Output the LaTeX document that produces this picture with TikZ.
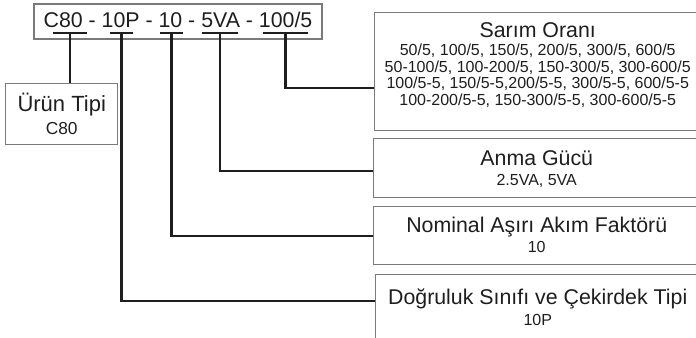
\documentclass[tikz,border=0pt]{standalone}
\usepackage{fontspec}
\setmainfont{Liberation Sans}
\usetikzlibrary{positioning}
\definecolor{linegray}{HTML}{7A7A7A}
\definecolor{ink}{HTML}{1E1E1E}

\begin{document}
\begin{tikzpicture}[x=0.75pt,y=-0.75pt,text=ink,
    box/.style={draw=linegray, line width=1.1pt, inner sep=0pt, anchor=north west},
    conn/.style={draw=ink, line width=1.7pt},
    ubar/.style={draw=ink, line width=2pt},
    ttl/.style={anchor=base, font=\fontsize{16}{19}\selectfont},
    val/.style={anchor=base, font=\fontsize{12}{12.7}\selectfont, align=center}]

    \useasboundingbox (0,0) rectangle (696,338);
    \clip (0,0) rectangle (696,338);

    \node[draw=linegray, line width=1.1pt, minimum width=216pt, minimum height=26.25pt, inner sep=0pt,
          text height=8.7pt, text depth=0pt, font=\fontsize{16}{19}\selectfont] (code) at (178,21.5)
          {C80 - 10P - 10 - 5VA - 100/5};

    \foreach \a/\b/\n in {53/87/c80, 110/133/p10, 160/183/f10, 202/238/va5, 263/308/ratio}
        \draw[ubar] (\a,33) -- (\b,33) coordinate[midway] (\n);

    \node[box, minimum width=84pt, minimum height=45.75pt] (urun) at (5,83) {};
    \node[box, minimum width=244.5pt, minimum height=88.5pt] (sarim) at (374,12) {};
    \node[box, minimum width=244.5pt, minimum height=44.25pt] (anma) at (373,138) {};
    \node[box, minimum width=244.5pt, minimum height=43.5pt] (nominal) at (373,206) {};
    \node[box, minimum width=243pt, minimum height=60pt] (dogruluk) at (375,274) {};

    \node[ttl, font=\fontsize{16.5}{19}\selectfont] (urunt) at ([yshift=-21.5pt]urun.north) {Ürün Tipi};
    \node[val, font=\fontsize{13}{15}\selectfont] (urunv) at ([yshift=-38.5pt]urun.north) {C80};

    \node[ttl] (sarimt) at ([yshift=-19.2pt]sarim.north) {Sarım Oranı};
    \node[val, anchor=center] (sarimv) at ([yshift=-47.8pt]sarim.north)
        {50/5, 100/5, 150/5, 200/5, 300/5, 600/5\\
         50-100/5, 100-200/5, 150-300/5, 300-600/5\\
         100/5-5, 150/5-5,200/5-5, 300/5-5, 600/5-5\\
         100-200/5-5, 150-300/5-5, 300-600/5-5};
    \node[ttl] (anmat) at ([yshift=-20.7pt]anma.north) {Anma Gücü};
    \node[val] (anmav) at ([yshift=-35.8pt]anma.north) {2.5VA, 5VA};
    \node[ttl] (nomt) at ([yshift=-20pt]nominal.north) {Nominal Aşırı Akım Faktörü};
    \node[val] (nomv) at ([yshift=-35pt]nominal.north) {10};
    \node[ttl] (dogt) at ([yshift=-23pt]dogruluk.north) {Doğruluk Sınıfı ve Çekirdek Tipi};
    \node[val] (dogv) at ([yshift=-38.8pt]dogruluk.north) {10P};

    % connectors
    \draw[conn] (c80) -- (c80 |- urun.north);
    \draw[conn] (p10) |- ([yshift=10.5pt]dogruluk.west);
    \draw[conn] (f10) |- (nominal.west);
    \draw[conn] (va5) |- ([yshift=-1.9pt]anma.west);
    \draw[conn] (ratio) |- ([yshift=-12pt]sarim.west);
\end{tikzpicture}
\end{document}
